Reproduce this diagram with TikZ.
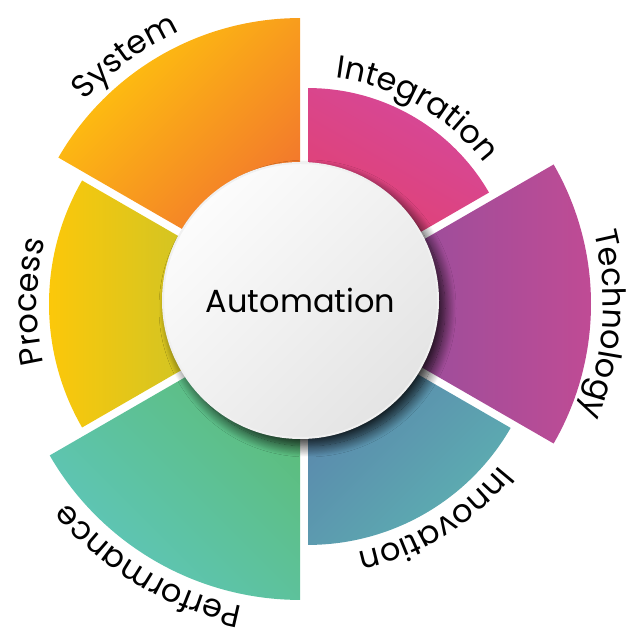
\documentclass[tikz,border=0pt]{standalone}
\usepackage{fontspec}
\setmainfont{Poppins}
\usetikzlibrary{calc,decorations.text,shadows.blur}
\definecolor{sysA}{HTML}{FFC60C}
\definecolor{sysB}{HTML}{F06A32}
\definecolor{intA}{HTML}{D5489A}
\definecolor{intB}{HTML}{E53F66}
\definecolor{tecA}{HTML}{874F9F}
\definecolor{tecB}{HTML}{C24B94}
\definecolor{innA}{HTML}{5A80AC}
\definecolor{innB}{HTML}{5DB0B1}
\definecolor{perA}{HTML}{5CBC72}
\definecolor{perB}{HTML}{5EC6BC}
\definecolor{proA}{HTML}{FFC808}
\definecolor{proB}{HTML}{B0C238}
\definecolor{cirA}{HTML}{FCFCFC}
\definecolor{cirB}{HTML}{E4E4E4}
\newcommand\labelfnt{\fontsize{32}{32}\selectfont}
\begin{document}
\begin{tikzpicture}[x=1pt,y=1pt,
  lbl/.style={decorate, decoration={text along path, text align=center, text={|\labelfnt|#1}}},
  hub/.style={circle, inner sep=0pt, minimum size=275pt, draw=white!94!black, line width=2pt,
    top color=cirA, bottom color=cirB, shading angle=45,
    blur shadow={shadow xshift=7pt, shadow yshift=-8pt, shadow blur radius=11pt, shadow opacity=85, shadow blur steps=20},
    font=\labelfnt}]
\useasboundingbox (0,0) rectangle (635,628);
\coordinate (P) at (304,324);
\coordinate (cInt) at ($(P)+(60:8)$);
\coordinate (cSys) at ($(P)+(120:8)$);
\coordinate (cPro) at ($(P)+(180:8)$);
\coordinate (cPer) at ($(P)+(240:8)$);
\coordinate (cInn) at ($(P)+(300:8)$);
\coordinate (cTec) at ($(P)+(0:8)$);
% sectors
\path[top color=intA, bottom color=intB, shading angle=-30]
  (cInt) -- ++(30:209) arc[start angle=30, end angle=90, radius=209] -- cycle;
\path[top color=sysA, bottom color=sysB, shading angle=45]
  (cSys) -- ++(90:279) arc[start angle=90, end angle=150, radius=279] -- cycle;
\path[left color=proA, right color=proB]
  (cPro) -- ++(150:247) arc[start angle=150, end angle=210, radius=247] -- cycle;
\path[top color=perA, bottom color=perB, shading angle=-45]
  (cPer) -- ++(210:289) arc[start angle=210, end angle=270, radius=289] -- cycle;
\path[top color=innA, bottom color=innB, shading angle=45]
  (cInn) -- ++(270:234) arc[start angle=270, end angle=330, radius=234] -- cycle;
\path[left color=tecA, right color=tecB]
  (cTec) -- ++(-30:279) arc[start angle=-30, end angle=30, radius=279] -- cycle;
% labels
\path[lbl=System] ($(cSys)+(166:291)$) arc[start angle=166, end angle=86, radius=291];
\path[lbl=Integration] ($(cInt)+(100:221)$) arc[start angle=100, end angle=20, radius=221];
\path[lbl=Technology] ($(cTec)+(36:291)$) arc[start angle=36, end angle=-44, radius=291];
\path[lbl=Innovation] ($(cInn)+(-18.6:246)$) arc[start angle=-18.6, end angle=-98.6, radius=246];
\path[lbl=Performance] ($(cPer)+(279.3:301)$) arc[start angle=279.3, end angle=199.3, radius=301];
\path[lbl=Process] ($(cPro)+(219.5:259)$) arc[start angle=219.5, end angle=139.5, radius=259];
% hub
\node[hub] (hub) at (300.5,327.5) {Automation};
\end{tikzpicture}
\end{document}
